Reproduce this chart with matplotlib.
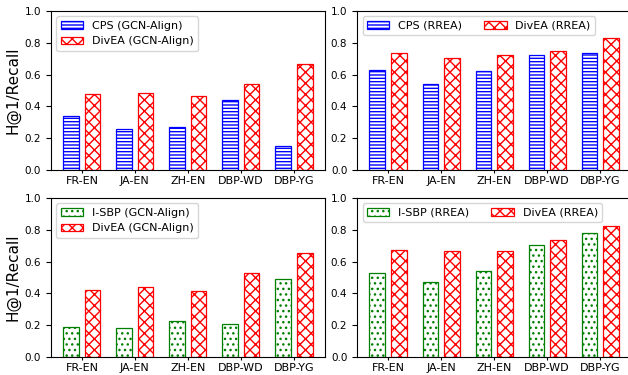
import numpy as np
import matplotlib
matplotlib.use('Agg')
import matplotlib.pyplot as plt

datasets = ['FR-EN', 'JA-EN', 'ZH-EN', 'DBP-WD', 'DBP-YG']

cps_gcn = [0.34, 0.26, 0.27, 0.44, 0.15]
divea_gcn = [0.48, 0.485, 0.465, 0.54, 0.665]
cps_rrea = [0.63, 0.54, 0.62, 0.72, 0.735]
divea_rrea = [0.735, 0.705, 0.72, 0.745, 0.83]

isbp_gcn = [0.19, 0.18, 0.225, 0.205, 0.49]
divea_gcn2 = [0.42, 0.44, 0.415, 0.525, 0.655]
isbp_rrea = [0.53, 0.47, 0.54, 0.705, 0.78]
divea_rrea2 = [0.67, 0.665, 0.665, 0.735, 0.825]

panels = [
    (cps_gcn, divea_gcn, 'CPS (GCN-Align)', 'DivEA (GCN-Align)', 'blue', '-----', 1),
    (cps_rrea, divea_rrea, 'CPS (RREA)', 'DivEA (RREA)', 'blue', '-----', 2),
    (isbp_gcn, divea_gcn2, 'I-SBP (GCN-Align)', 'DivEA (GCN-Align)', 'green', '...', 1),
    (isbp_rrea, divea_rrea2, 'I-SBP (RREA)', 'DivEA (RREA)', 'green', '...', 2),
]

fig, axes = plt.subplots(2, 2, figsize=(6.28, 3.75), dpi=100)
fig.subplots_adjust(left=0.081, right=1.005, top=0.971, bottom=0.048,
                    wspace=0.117, hspace=0.176)

x = np.arange(len(datasets))
w = 0.3
for ax, (base, div, lb, ld, c, h, ncol) in zip(axes.flat, panels):
    ax.bar(x - 0.2, base, w, color='white', edgecolor=c, hatch=h, lw=0.9, label=lb)
    ax.bar(x + 0.2, div, w, color='white', edgecolor='red', hatch='xxx', lw=0.9, label=ld)
    ax.set_ylim(0, 1.0)
    ax.set_yticks(np.arange(0, 1.01, 0.2))
    ax.set_xticks(x)
    ax.set_xticklabels(datasets)
    ax.tick_params(axis='y', labelsize=7.5)
    ax.tick_params(axis='x', labelsize=8, length=2.5, pad=2)
    ax.legend(loc='upper left', ncol=ncol, fontsize=8)

axes[0, 0].set_ylabel('H@1/Recall', fontsize=11, labelpad=3)
axes[1, 0].set_ylabel('H@1/Recall', fontsize=11, labelpad=3)

fig.savefig('out.png', dpi=100)
